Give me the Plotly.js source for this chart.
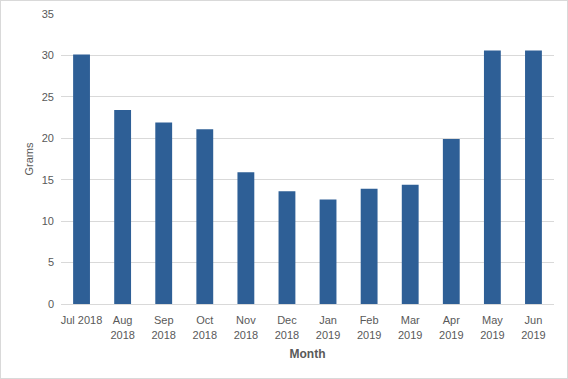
<!DOCTYPE html>
<html>
<head>
<meta charset="utf-8">
<script src="https://cdn.plot.ly/plotly-3.0.1.min.js"></script>
<style>
html,body{margin:0;padding:0;background:#fff;}
#chart{width:568px;height:379px;box-sizing:border-box;border:1px solid #d9d9d9;}
</style>
</head>
<body>
<div id="chart"></div>
<script>
var months = ["Jul 2018","Aug 2018","Sep 2018","Oct 2018","Nov 2018","Dec 2018","Jan 2019","Feb 2019","Mar 2019","Apr 2019","May 2019","Jun 2019"];
var tickLabels = ["Jul 2018","Aug<br>2018","Sep<br>2018","Oct<br>2018","Nov<br>2018","Dec<br>2018","Jan<br>2019","Feb<br>2019","Mar<br>2019","Apr<br>2019","May<br>2019","Jun<br>2019"];
var grams = [30.1, 23.4, 21.9, 21.1, 15.9, 13.6, 12.6, 13.9, 14.4, 19.9, 30.6, 30.6];
var yTicks = [0, 5, 10, 15, 20, 25, 30, 35];

var font = {family: "Liberation Sans, Arial, sans-serif", size: 11, color: "#595959"};

var data = [{
  type: "bar",
  x: months,
  y: grams,
  marker: {color: "#2e5f96"},
  hoverinfo: "x+y"
}];

var layout = {
  width: 566,
  height: 377,
  margin: {l: 60, r: 13, t: 13, b: 74},
  paper_bgcolor: "#ffffff",
  plot_bgcolor: "#ffffff",
  bargap: 0.59,
  showlegend: false,
  font: font,
  xaxis: {
    type: "category",
    tickvals: months,
    ticktext: tickLabels,
    showgrid: false,
    showline: true,
    linecolor: "#d9d9d9",
    linewidth: 1,
    ticks: "",
    ticklabelstandoff: 6,
    tickangle: 0,
    tickfont: font,
    title: {text: "Month", font: {family: font.family, size: 12, color: "#595959", weight: "bold"}, standoff: 10}
  },
  yaxis: {
    range: [0, 35],
    tickvals: yTicks,
    showgrid: true,
    gridcolor: "#d9d9d9",
    gridwidth: 1,
    zeroline: false,
    showline: false,
    ticks: "",
    ticklabelstandoff: 6,
    tickfont: font,
    title: {text: "Grams", font: {family: font.family, size: 11, color: "#595959"}, standoff: 5}
  }
};

Plotly.newPlot("chart", data, layout, {displayModeBar: false, staticPlot: true});
</script>
</body>
</html>
